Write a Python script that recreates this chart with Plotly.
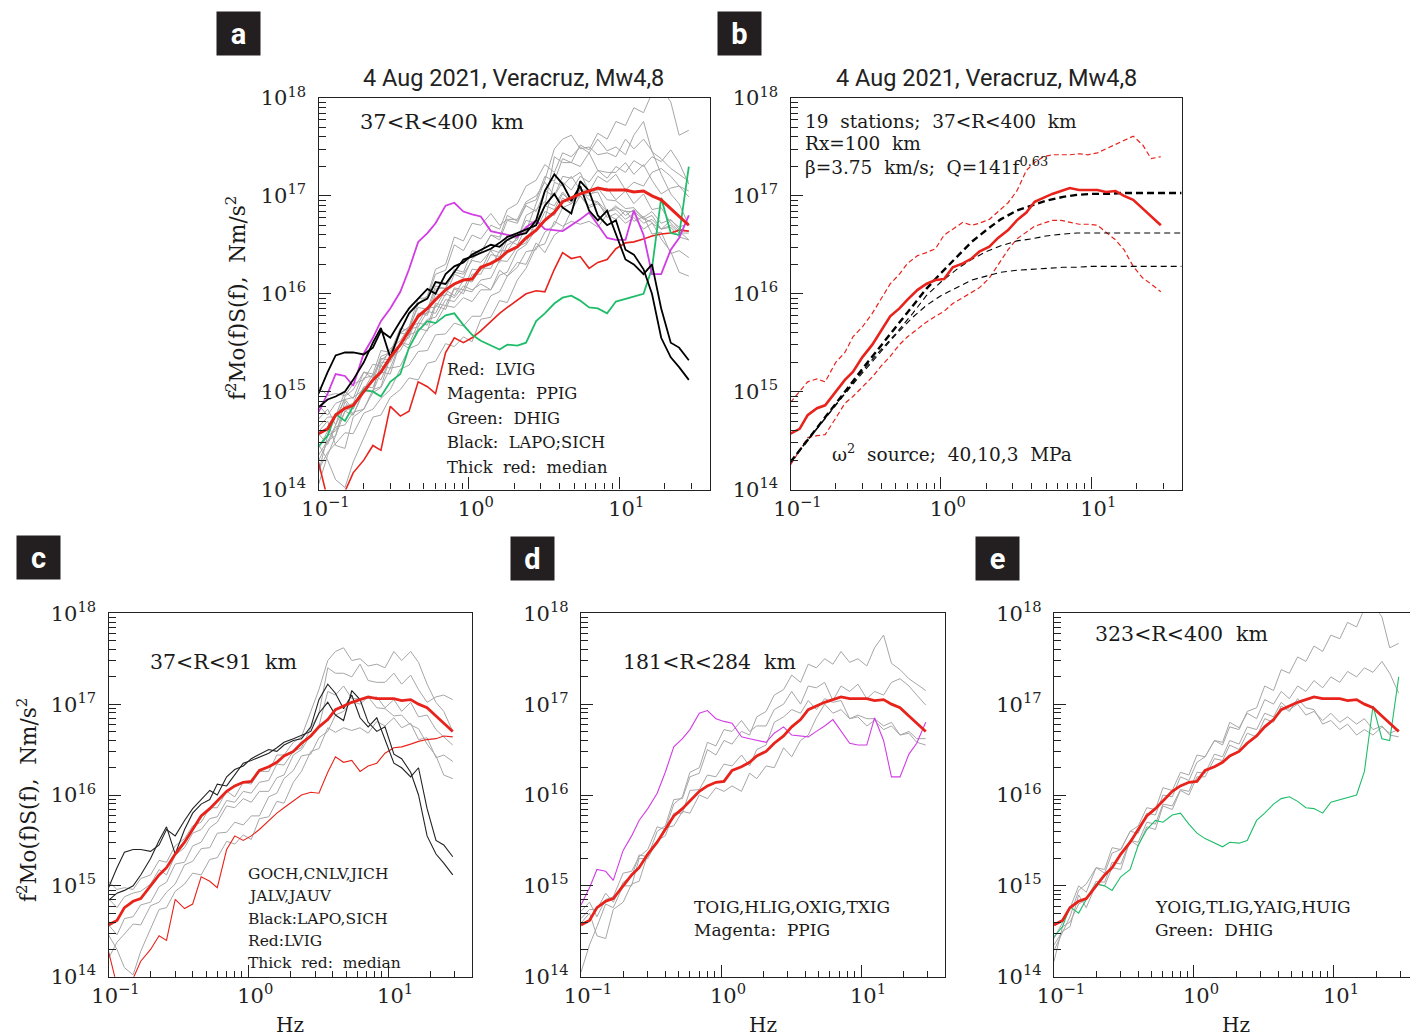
import plotly.graph_objects as go

# ---------------- data (values are log10 of f^2 Mo(f) S(f) in N m / s^2) ----------------
FREQ_HZ = [0.10, 0.115, 0.13, 0.15, 0.17, 0.20, 0.23, 0.26, 0.30, 0.35, 0.40, 0.46, 0.53, 0.60,
           0.70, 0.80, 0.92, 1.05, 1.2, 1.4, 1.6, 1.8, 2.1, 2.4, 2.8, 3.2, 3.7, 4.2, 4.8, 5.5,
           6.3, 7.2, 8.3, 9.5, 11.0, 12.5, 14.5, 16.5, 19.0, 22.0, 25.0, 29.0]

MEDIAN_LOG10 = [14.57, 14.62, 14.76, 14.83, 14.86, 15.00, 15.12, 15.20, 15.35, 15.48, 15.62, 15.77, 15.85, 15.94,
                16.04, 16.10, 16.14, 16.15, 16.27, 16.31, 16.36, 16.43, 16.48, 16.57, 16.65, 16.75, 16.83, 16.94,
                16.98, 17.02, 17.05, 17.08, 17.06, 17.06, 17.06, 17.04, 17.05, 17.00, 16.96, 16.87, 16.79, 16.70]
UPPER_LOG10 = [14.89, 15.00, 15.10, 15.13, 15.10, 15.30, 15.40, 15.56, 15.66, 15.80, 15.94, 16.10, 16.20, 16.31,
               16.39, 16.42, 16.46, 16.60, 16.66, 16.73, 16.70, 16.72, 16.76, 16.84, 16.93, 17.05, 17.26, 17.34,
               17.40, 17.42, 17.42, 17.42, 17.43, 17.42, 17.44, 17.48, 17.52, 17.56, 17.61, 17.52, 17.38, 17.40]
LOWER_LOG10 = [14.25, 14.40, 14.53, 14.55, 14.56, 14.73, 14.88, 14.95, 15.05, 15.15, 15.26, 15.36, 15.48, 15.56,
               15.64, 15.71, 15.77, 15.82, 15.90, 15.96, 16.01, 16.06, 16.16, 16.29, 16.45, 16.56, 16.63, 16.69,
               16.72, 16.75, 16.75, 16.73, 16.71, 16.71, 16.70, 16.63, 16.55, 16.45, 16.28, 16.16, 16.10, 16.02]

LVIG = [14.28, 13.90, 13.80, 13.98, 14.17, 14.30, 14.45, 14.40, 14.85, 14.75, 14.80, 15.10, 15.05, 14.98,
        15.40, 15.55, 15.50, 15.55, 15.62, 15.72, 15.80, 15.86, 15.94, 16.00, 16.03, 16.02, 16.25, 16.42,
        16.36, 16.38, 16.26, 16.32, 16.35, 16.46, 16.52, 16.53, 16.56, 16.59, 16.61, 16.62, 16.65, 16.64]
LAPO = [14.98, 15.20, 15.37, 15.40, 15.40, 15.38, 15.45, 15.62, 15.55, 15.72, 15.85, 15.95, 16.05, 16.00,
        16.20, 16.28, 16.32, 16.40, 16.45, 16.50, 16.48, 16.55, 16.60, 16.62, 16.75, 17.05, 17.22, 17.12,
        16.95, 17.10, 16.85, 16.75, 16.85, 16.60, 16.35, 16.30, 16.20, 16.30, 15.85, 15.50, 15.45, 15.32]
SICH = [14.84, 14.92, 14.95, 15.00, 15.12, 15.30, 15.50, 15.65, 15.35, 15.62, 15.80, 15.90, 15.95, 16.12,
        16.10, 16.22, 16.35, 16.38, 16.42, 16.46, 16.52, 16.58, 16.62, 16.66, 16.70, 16.90, 17.02, 16.88,
        16.82, 17.15, 17.05, 16.80, 16.70, 16.75, 16.45, 16.40, 16.25, 16.00, 15.55, 15.35, 15.25, 15.12]
PPIG = [14.79, 14.98, 15.18, 15.16, 15.06, 15.39, 15.55, 15.72, 15.85, 16.02, 16.25, 16.53, 16.62, 16.72,
        16.90, 16.93, 16.84, 16.81, 16.79, 16.64, 16.62, 16.60, 16.58, 16.68, 16.75, 16.66, 16.65, 16.64,
        16.70, 16.76, 16.83, 16.70, 16.57, 16.55, 16.55, 16.85, 16.60, 16.20, 16.20, 16.45, 16.57, 16.80]
DHIG = [14.44, 14.55, 14.77, 14.70, 14.85, 15.02, 15.00, 14.95, 15.10, 15.18, 15.45, 15.62, 15.72, 15.70,
        15.78, 15.80, 15.68, 15.58, 15.52, 15.47, 15.43, 15.48, 15.47, 15.50, 15.72, 15.80, 15.90, 15.96,
        15.98, 15.93, 15.86, 15.85, 15.80, 15.92, 15.95, 15.97, 16.00, 16.26, 16.98, 16.62, 16.60, 17.30]

# 37<R<91 km (GOCH, CNLV, JICH, JALV, JAUV)
NEAR_GRAY = [
    [15.05, 14.96, 14.98, 14.96, 15.08, 15.12, 15.28, 15.26, 15.44, 15.52, 15.66, 15.70, 15.86, 15.86,
     16.04, 15.98, 16.14, 16.12, 16.26, 16.26, 16.44, 16.44, 16.58, 16.64, 16.92, 17.16, 17.48, 17.58,
     17.62, 17.48, 17.50, 17.42, 17.44, 17.40, 17.58, 17.48, 17.58, 17.46, 17.22, 17.02, 16.92, 16.70],
    [14.86, 14.76, 14.88, 14.92, 14.94, 15.02, 15.18, 15.12, 15.34, 15.42, 15.58, 15.62, 15.74, 15.76,
     15.94, 15.92, 16.04, 16.02, 16.14, 16.16, 16.34, 16.33, 16.48, 16.52, 16.74, 16.90, 17.40, 17.34,
     17.34, 17.30, 17.44, 17.26, 17.24, 17.24, 17.34, 17.22, 17.32, 17.16, 17.02, 17.08, 17.10, 17.05],
    [14.57, 14.46, 14.64, 14.66, 14.79, 14.82, 14.99, 15.04, 15.24, 15.26, 15.44, 15.48, 15.64, 15.70,
     15.88, 15.86, 15.96, 15.92, 16.04, 16.04, 16.19, 16.22, 16.44, 16.50, 16.66, 16.76, 17.14, 17.10,
     17.20, 17.06, 17.06, 17.06, 17.08, 16.96, 17.05, 16.92, 17.02, 16.86, 16.88, 16.72, 16.64, 16.55],
    [14.46, 14.30, 14.10, 14.02, 14.28, 14.52, 14.74, 14.76, 14.94, 15.02, 15.14, 15.12, 15.29, 15.31,
     15.49, 15.46, 15.56, 15.51, 15.74, 15.76, 15.93, 15.91, 16.14, 16.26, 16.48, 16.51, 16.74, 16.69,
     16.74, 16.71, 16.74, 16.68, 16.81, 16.76, 16.85, 16.74, 16.79, 16.61, 16.63, 16.41, 16.44, 16.37],
    [14.20, 14.38, 14.47, 14.58, 14.57, 14.78, 14.82, 14.93, 15.02, 15.23, 15.27, 15.41, 15.42, 15.58,
     15.59, 15.70, 15.67, 15.77, 15.77, 15.98, 16.02, 16.18, 16.27, 16.43, 16.45, 16.63, 16.70, 16.88,
     16.92, 17.03, 17.00, 17.08, 16.96, 16.95, 16.87, 16.88, 16.77, 16.73, 16.56, 16.43, 16.22, 16.18],
]
# 181<R<284 km (TOIG, HLIG, OXIG, TXIG)
MID_GRAY = [
    [14.64, 14.74, 14.74, 14.92, 14.82, 15.04, 15.10, 15.34, 15.32, 15.60, 15.66, 15.95, 15.96, 16.20,
     16.24, 16.50, 16.44, 16.60, 16.56, 16.70, 16.66, 16.86, 16.92, 17.10, 17.16, 17.32, 17.24, 17.44,
     17.40, 17.50, 17.44, 17.58, 17.46, 17.50, 17.42, 17.62, 17.76, 17.45, 17.38, 17.28, 17.22, 17.15],
    [14.72, 14.82, 14.66, 14.85, 14.88, 15.14, 15.16, 15.32, 15.40, 15.65, 15.62, 15.90, 15.98, 16.25,
     16.30, 16.58, 16.54, 16.72, 16.70, 16.82, 16.70, 16.76, 16.76, 16.94, 17.00, 17.14, 17.00, 17.20,
     17.18, 17.24, 17.04, 17.20, 17.14, 17.22, 17.06, 17.14, 17.10, 17.24, 17.28, 17.20, 17.10, 16.99],
    [14.05, 14.35, 14.55, 14.80, 14.76, 15.00, 15.00, 15.30, 15.30, 15.50, 15.55, 15.80, 15.80, 16.05,
     16.06, 16.22, 16.20, 16.34, 16.32, 16.44, 16.32, 16.50, 16.55, 16.80, 16.86, 16.94, 16.90, 17.04,
     16.94, 17.06, 17.02, 17.04, 16.84, 16.88, 16.84, 16.84, 16.76, 16.80, 16.66, 16.70, 16.62, 16.62],
    [14.59, 14.70, 14.45, 14.42, 14.74, 14.82, 15.02, 15.05, 15.35, 15.48, 15.64, 15.66, 15.82, 15.80,
     16.00, 15.96, 16.08, 16.04, 16.10, 16.04, 16.24, 16.18, 16.32, 16.30, 16.52, 16.42, 16.60, 16.66,
     16.85, 17.00, 16.90, 16.94, 16.84, 16.86, 16.76, 16.82, 16.72, 16.76, 16.66, 16.68, 16.58, 16.55],
]
# 323<R<400 km (YOIG, TLIG, YAIG, HUIG)
FAR_GRAY = [
    [14.29, 14.48, 14.66, 14.95, 15.02, 15.20, 15.18, 15.42, 15.40, 15.60, 15.66, 15.86, 15.84, 16.08,
     16.05, 16.25, 16.22, 16.44, 16.42, 16.60, 16.55, 16.75, 16.72, 16.92, 16.96, 17.20, 17.15, 17.38,
     17.34, 17.52, 17.47, 17.64, 17.58, 17.76, 17.72, 17.90, 17.85, 18.05, 18.10, 17.96, 17.62, 17.67],
    [14.42, 14.60, 14.75, 15.00, 14.93, 15.20, 15.14, 15.36, 15.40, 15.60, 15.58, 15.80, 15.78, 16.00,
     15.98, 16.20, 16.16, 16.36, 16.42, 16.60, 16.58, 16.80, 16.74, 16.90, 16.84, 17.05, 17.00, 17.14,
     17.06, 17.20, 17.14, 17.26, 17.18, 17.30, 17.24, 17.36, 17.30, 17.40, 17.35, 17.47, 17.34, 17.12],
    [14.17, 14.55, 14.60, 14.80, 14.85, 15.05, 15.04, 15.26, 15.24, 15.50, 15.48, 15.70, 15.68, 15.90,
     15.88, 16.06, 16.04, 16.25, 16.24, 16.45, 16.42, 16.60, 16.56, 16.75, 16.72, 16.90, 16.86, 17.02,
     16.94, 17.00, 16.88, 16.92, 16.82, 16.90, 16.80, 16.86, 16.78, 16.84, 16.72, 16.76, 16.66, 16.64],
    [14.35, 14.50, 14.55, 14.90, 14.76, 15.02, 15.00, 15.20, 15.18, 15.50, 15.44, 15.65, 15.62, 15.88,
     15.84, 16.05, 16.00, 16.20, 16.20, 16.40, 16.38, 16.55, 16.50, 16.68, 16.64, 16.84, 16.80, 16.98,
     16.92, 17.06, 16.96, 16.94, 16.78, 16.82, 16.72, 16.78, 16.66, 16.72, 16.66, 16.75, 16.68, 16.72],
]

# omega-squared source models (40, 10, 3 MPa)
MODEL_FREQ_HZ = [0.1, 0.13, 0.17, 0.22, 0.3, 0.4, 0.5, 0.65, 0.8, 1.0, 1.3, 1.6, 2.0, 2.5, 3.2, 4.0, 5.0,
                 6.5, 8.0, 10.0, 13.0, 16.0, 20.0, 25.0, 32.0, 40.0]
MODEL_40MPA = [14.28, 14.51, 14.74, 14.96, 15.23, 15.47, 15.66, 15.88, 16.05, 16.21, 16.39, 16.53, 16.65,
               16.76, 16.85, 16.90, 16.95, 16.99, 17.01, 17.02, 17.02, 17.03, 17.03, 17.03, 17.03, 17.03]
MODEL_10MPA = [14.28, 14.51, 14.73, 14.95, 15.21, 15.43, 15.59, 15.80, 15.98, 16.12, 16.26, 16.35, 16.43,
               16.49, 16.54, 16.56, 16.59, 16.61, 16.62, 16.62, 16.62, 16.62, 16.62, 16.62, 16.62, 16.62]
MODEL_3MPA = [14.28, 14.50, 14.73, 14.94, 15.19, 15.41, 15.58, 15.76, 15.88, 15.98, 16.07, 16.14, 16.18,
              16.22, 16.24, 16.25, 16.26, 16.27, 16.27, 16.28, 16.28, 16.28, 16.28, 16.28, 16.28, 16.28]

X_MAJOR = [0.1, 1, 10]
X_MAJOR_TXT = ["10<sup>\u22121</sup>", "10<sup>0</sup>", "10<sup>1</sup>"]
X_MINOR = [0.2, 0.3, 0.4, 0.5, 0.6, 0.7, 0.8, 0.9, 2, 3, 4, 5, 6, 7, 8, 9, 20, 30]
Y_MAJOR = [1e14, 1e15, 1e16, 1e17, 1e18]
Y_MAJOR_TXT = ["10<sup>14</sup>", "10<sup>15</sup>", "10<sup>16</sup>", "10<sup>17</sup>", "10<sup>18</sup>"]
Y_MINOR = [m * 10 ** e for e in (14, 15, 16, 17) for m in range(2, 10)]

# ---------------- styling ----------------
W, H = 1410, 1036
RED = "#e8231c"
MAGENTA = "#d23ce4"
GREEN = "#1fbd6a"
GRAY = "#a6a6a6"
SERIF = "DejaVu Serif"
SANS = "Roboto"


def amp(vals):
    return [10 ** v for v in vals]


def px(x):
    return x / W


def py(y):
    return 1 - y / H


PANELS = {
    "a": dict(ax="", x0=318.5, x1=709.5, y0=98.0, y1=489.5, xr=[-1, 1.6], right=True),
    "b": dict(ax="2", x0=790.5, x1=1181.5, y0=98.0, y1=489.5, xr=[-1, 1.6], right=True),
    "c": dict(ax="3", x0=108.5, x1=472.0, y0=613.3, y1=976.7, xr=[-1, 1.6], right=True),
    "d": dict(ax="4", x0=581.0, x1=945.0, y0=613.3, y1=976.7, xr=[-1, 1.6], right=True),
    "e": dict(ax="5", x0=1054.0, x1=1410.0, y0=613.3, y1=976.7, xr=[-1, 1.543], right=False),
}

fig = go.Figure()


def add(panel, x, y, color, width, dash="solid"):
    a = PANELS[panel]["ax"]
    fig.add_trace(go.Scatter(x=x, y=amp(y), mode="lines",
                             line=dict(color=color, width=width, dash=dash),
                             xaxis="x" + a, yaxis="y" + a, showlegend=False, hoverinfo="skip"))


# panel a : all stations
for s in NEAR_GRAY + MID_GRAY + FAR_GRAY:
    add("a", FREQ_HZ, s, GRAY, 1.0)
add("a", FREQ_HZ, LVIG, RED, 1.6)
add("a", FREQ_HZ, DHIG, GREEN, 1.8)
add("a", FREQ_HZ, PPIG, MAGENTA, 1.8)
add("a", FREQ_HZ, LAPO, "black", 1.8)
add("a", FREQ_HZ, SICH, "black", 1.8)
add("a", FREQ_HZ, MEDIAN_LOG10, RED, 3.0)

# panel b : median, spread and models
add("b", FREQ_HZ, UPPER_LOG10, RED, 1.2, "5px,3px")
add("b", FREQ_HZ, LOWER_LOG10, RED, 1.2, "5px,3px")
add("b", MODEL_FREQ_HZ, MODEL_10MPA, "black", 1.1, "6px,4px")
add("b", MODEL_FREQ_HZ, MODEL_3MPA, "black", 1.1, "6px,4px")
add("b", MODEL_FREQ_HZ, MODEL_40MPA, "black", 2.4, "7px,4px")
add("b", FREQ_HZ, MEDIAN_LOG10, RED, 2.6)

# panel c
for s in NEAR_GRAY:
    add("c", FREQ_HZ, s, GRAY, 1.0)
add("c", FREQ_HZ, LVIG, RED, 1.1)
add("c", FREQ_HZ, LAPO, "#222222", 1.1)
add("c", FREQ_HZ, SICH, "#222222", 1.1)
add("c", FREQ_HZ, MEDIAN_LOG10, RED, 2.8)

# panel d
for s in MID_GRAY:
    add("d", FREQ_HZ, s, GRAY, 1.0)
add("d", FREQ_HZ, PPIG, MAGENTA, 1.1)
add("d", FREQ_HZ, MEDIAN_LOG10, RED, 2.8)

# panel e
for s in FAR_GRAY:
    add("e", FREQ_HZ, s, GRAY, 1.0)
add("e", FREQ_HZ, DHIG, GREEN, 1.1)
add("e", FREQ_HZ, MEDIAN_LOG10, RED, 2.8)

layout = dict(width=W, height=H, margin=dict(l=0, r=0, t=0, b=0, pad=0, autoexpand=False),
              paper_bgcolor="white", plot_bgcolor="white", showlegend=False)

for key, p in PANELS.items():
    a = p["ax"]
    common = dict(type="log", showgrid=False, zeroline=False, showline=True, automargin=False,
                  linecolor="#222222", linewidth=1.3, ticks="inside", tickcolor="#222222",
                  tickwidth=1, ticklen=12, tickmode="array",
                  tickfont=dict(family=SERIF, size=21, color="#222222"))
    layout["xaxis" + a] = dict(common, range=p["xr"], domain=[px(p["x0"]), px(p["x1"])],
                               anchor="y" + a, tickvals=X_MAJOR, ticktext=X_MAJOR_TXT, mirror=True,
                               ticklabelshift=7,
                               minor=dict(tickmode="array", tickvals=X_MINOR, ticks="inside",
                                          ticklen=6, tickcolor="#222222", showgrid=False))
    layout["yaxis" + a] = dict(common, range=[14, 18], domain=[py(p["y1"]), py(p["y0"])],
                               anchor="x" + a, tickvals=Y_MAJOR, ticktext=Y_MAJOR_TXT,
                               mirror=p["right"], ticklabelstandoff=7,
                               minor=dict(tickmode="array", tickvals=Y_MINOR, ticks="inside",
                                          ticklen=7, tickcolor="#222222", showgrid=False))

ann = []


def text(x, y, s, size, family=SERIF, xanchor="left", color="#1a1a1a", angle=0):
    ann.append(dict(x=px(x), y=py(y), xref="paper", yref="paper", text=s, showarrow=False,
                    xanchor=xanchor, yanchor="middle", textangle=angle,
                    font=dict(family=family, size=size, color=color)))


# titles
text(513, 78, "4 Aug 2021, Veracruz, Mw4,8", 23.5, SANS, "center", "#222222")
text(986, 78, "4 Aug 2021, Veracruz, Mw4,8", 23.5, SANS, "center", "#222222")

# panel letters
for letter, cx, cy in [("a", 238.5, 33.5), ("b", 739.5, 33.5), ("c", 38.5, 557.5),
                       ("d", 532.0, 558.0), ("e", 997.5, 558.0)]:
    ann.append(dict(x=px(cx), y=py(cy), xref="paper", yref="paper", text="<b>" + letter + "</b>",
                    showarrow=False, xanchor="center", yanchor="middle", width=43, height=43,
                    bgcolor="#231f20", borderpad=0, align="center", valign="middle",
                    font=dict(family=SANS, size=29, color="white")))

# y-axis titles
ytitle = "f<sup>2</sup>Mo(f)S(f),  Nm/s<sup>2</sup>"
text(236, 298, ytitle, 21.5, SERIF, "center", angle=-90)
text(27, 800, ytitle, 21.5, SERIF, "center", angle=-90)

# x-axis titles
for cx in (290, 763, 1236):
    text(cx, 1025, "Hz", 20, SERIF, "center")

# panel a notes
text(358, 122, "37&lt;R&lt;400  km", 21)
for i, s in enumerate(["Red:  LVIG", "Magenta:  PPIG", "Green:  DHIG", "Black:  LAPO;SICH",
                       "Thick  red:  median"]):
    text(445, 369.5 + i * 24.4, s, 16.3)

# panel b notes
text(803, 122, "19  stations;  37&lt;R&lt;400  km", 18.5)
text(803, 144, "Rx=100  km", 18.5)
text(803, 166, "\u03b2=3.75  km/s;  Q=141f<sup>0.63</sup>", 18.5)
text(830, 453, "\u03c9<sup>2</sup>  source;  40,10,3  MPa", 18.5)

# panel c notes
text(148, 662, "37&lt;R&lt;91  km", 20.5)
for i, s in enumerate(["GOCH,CNLV,JICH", "JALV,JAUV", "Black:LAPO,SICH", "Red:LVIG",
                       "Thick  red:  median"]):
    text(246, 874 + i * 22.3, s, 15.5)

# panel d notes
text(621, 662, "181&lt;R&lt;284  km", 20.5)
text(692, 907, "TOIG,HLIG,OXIG,TXIG", 17)
text(692, 930, "Magenta:  PPIG", 17)

# panel e notes
text(1093, 634, "323&lt;R&lt;400  km", 20.5)
text(1153, 907, "YOIG,TLIG,YAIG,HUIG", 17)
text(1153, 930, "Green:  DHIG", 17)

layout["annotations"] = ann
fig.update_layout(**layout)
fig.write_html("out.html")
